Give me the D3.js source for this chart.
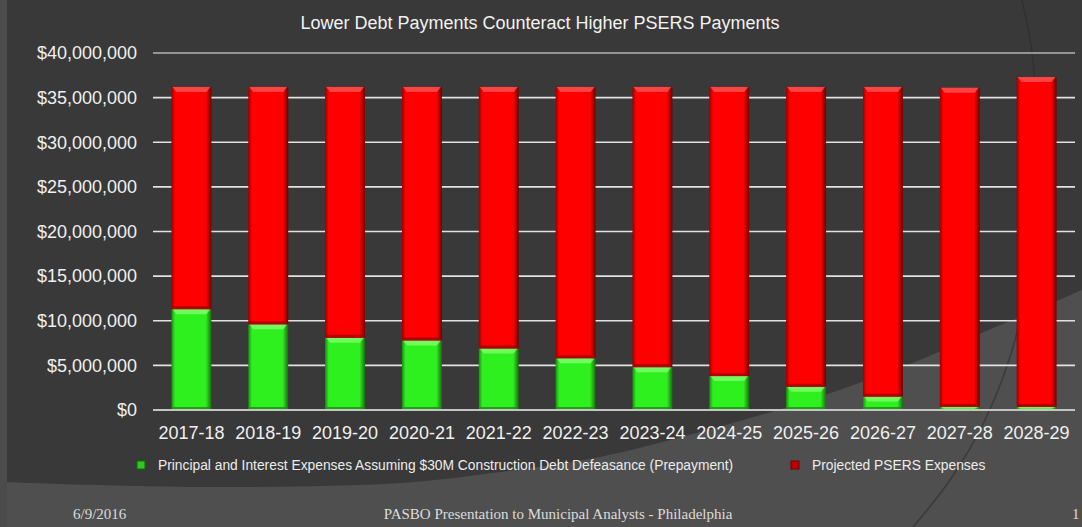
<!DOCTYPE html>
<html>
<head>
<meta charset="utf-8">
<script src="https://cdn.jsdelivr.net/npm/d3@7"></script>
<style>
  html, body { margin: 0; padding: 0; background: #4f4f4f; }
  svg { display: block; }
  text { font-family: "Liberation Sans", Arial, sans-serif; }
</style>
</head>
<body>
<div id="chart"></div>
<script>
// fiscal years on the x axis
var years = ['2017-18', '2018-19', '2019-20', '2020-21', '2021-22', '2022-23',
             '2023-24', '2024-25', '2025-26', '2026-27', '2027-28', '2028-29'];

// principal and interest, assuming the $30M defeasance
var debtPayments = [11300000, 9600000, 8100000, 7800000, 6900000, 5800000,
                    4800000, 3800000, 2600000, 1500000, 350000, 350000];

// projected PSERS expenses (stacked on top)
var psersPayments = [24900000, 26600000, 28100000, 28400000, 29300000, 30400000,
                     31400000, 32400000, 33600000, 34700000, 35750000, 36950000];

var yTicks = [0, 5000000, 10000000, 15000000, 20000000, 25000000, 30000000, 35000000, 40000000];

var seriesNames = ['Principal and Interest Expenses Assuming $30M Construction Debt Defeasance (Prepayment)',
                   'Projected PSERS Expenses'];

var title = 'Lower Debt Payments Counteract Higher PSERS Payments',
    footerDate = '6/9/2016',
    footerText = 'PASBO Presentation to Municipal Analysts - Philadelphia',
    slideNo = '1';

(function (d3) {
    var W = 1082, H = 527;

    var svg = d3.select('#chart').append('svg')
        .attr('width', W)
        .attr('height', H);

    var defs = svg.append('defs');

    // bar gradients: dark edges, bright middle (fake 3d bevel)
    function barGradient(id, edge, mid, edge2) {
        var g = defs.append('linearGradient').attr('id', id)
            .attr('x1', '0%').attr('x2', '100%').attr('y1', '0%').attr('y2', '0%');
        g.append('stop').attr('offset', '0%').attr('stop-color', edge);
        g.append('stop').attr('offset', '9%').attr('stop-color', mid);
        g.append('stop').attr('offset', '86%').attr('stop-color', mid);
        g.append('stop').attr('offset', '100%').attr('stop-color', edge2);
    }
    barGradient('gradGreen', '#1c8a12', '#2ff01f', '#176e0f');
    barGradient('gradRed', '#9a0000', '#ff0000', '#6e0000');

    // ---- slide background ----
    svg.append('rect').attr('width', W).attr('height', H).attr('fill', '#4f4f4f');

    var swoosh = [[0, 482], [200, 487], [400, 483], [500, 472], [600, 457], [700, 432],
                  [800, 403], [900, 368], [982, 333], [1082, 290]];
    var bgLine = d3.line().curve(d3.curveCatmullRom);
    svg.append('path')
        .attr('d', bgLine(swoosh) + 'L1082,0L0,0Z')
        .attr('fill', '#393939');

    // faint arc on the right
    var arc = [[1022, 0], [1033, 60], [1036, 150], [1030, 250], [1015, 340], [985, 420], [950, 480], [913, 527]];
    svg.append('path')
        .attr('d', bgLine(arc))
        .attr('fill', 'none')
        .attr('stroke', '#2c2c2c')
        .attr('stroke-opacity', 0.55)
        .attr('stroke-width', 1.6);

    svg.append('rect').attr('x', 0).attr('y', 0).attr('width', 7).attr('height', H)
        .attr('fill', '#4b4b4b');

    // ---- scales ----
    var x = d3.scaleBand()
        .domain(years)
        .range([153, 1075])
        .paddingInner(0.48)
        .paddingOuter(0.24);

    var y = d3.scaleLinear()
        .domain([0, 40000000])
        .range([410, 53]);

    // title
    svg.append('text')
        .attr('x', 540)
        .attr('y', 29)
        .attr('text-anchor', 'middle')
        .attr('fill', '#f2f2f2')
        .style('font-size', '18px')
        .text(title);

    // gridlines
    svg.append('g').selectAll('line')
        .data(yTicks.filter(function (t) { return t > 0; }))
        .enter().append('line')
        .attr('x1', 153).attr('x2', 1075)
        .attr('y1', function (d) { return y(d); })
        .attr('y2', function (d) { return y(d); })
        .attr('stroke', function (d) { return d === 40000000 ? '#b4b4b4' : '#e2e2e2'; })
        .attr('stroke-width', 1.6);

    // y axis labels
    var yAxis = svg.append('g')
        .attr('transform', 'translate(153,0)')
        .call(d3.axisLeft(y).tickValues(yTicks).tickSize(0).tickPadding(16)
            .tickFormat(d3.format('$,')));
    yAxis.select('.domain').remove();
    yAxis.selectAll('text')
        .attr('fill', '#f0f0f0')
        .style('font-size', '18px')
        .style('font-family', '"Liberation Sans", Arial, sans-serif');

    // ---- stacked bars ----
    var rows = years.map(function (yr, i) {
        return { year: yr, debt: debtPayments[i], psers: psersPayments[i] };
    });
    var stack = d3.stack().keys(['debt', 'psers'])(rows);
    var fills = ['url(#gradGreen)', 'url(#gradRed)'],
        hilite = ['#86ff74', '#ff5a5a'],
        shade = ['#189010', '#a30000'];

    var layers = svg.append('g').selectAll('g.layer')
        .data(stack)
        .enter().append('g')
        .attr('class', 'layer');

    layers.each(function (layer, li) {
        var g = d3.select(this);
        var seg = g.selectAll('g.seg')
            .data(layer)
            .enter().append('g')
            .attr('class', 'seg');

        seg.append('rect')
            .attr('x', function (d) { return x(d.data.year); })
            .attr('y', function (d) { return y(d[1]); })
            .attr('width', x.bandwidth())
            .attr('height', function (d) { return Math.max(0, y(d[0]) - y(d[1])); })
            .attr('fill', fills[li]);

        // darker band at the bottom of the segment
        seg.append('rect')
            .attr('x', function (d) { return x(d.data.year) + 1; })
            .attr('y', function (d) { return y(d[0]) - Math.min(3, (y(d[0]) - y(d[1])) / 3); })
            .attr('width', x.bandwidth() - 2)
            .attr('height', function (d) { return Math.min(3, (y(d[0]) - y(d[1])) / 3); })
            .attr('fill', shade[li])
            .attr('opacity', 0.8);

        // bevelled top highlight
        seg.append('path')
            .attr('d', function (d) {
                var x0 = x(d.data.year), w = x.bandwidth(), t = y(d[1]);
                var h = Math.min(5, (y(d[0]) - t) / 2);
                return 'M' + (x0 + 1) + ',' + t + 'L' + (x0 + w - 1) + ',' + t +
                    'L' + (x0 + w - 5) + ',' + (t + h) + 'L' + (x0 + 5) + ',' + (t + h) + 'Z';
            })
            .attr('fill', hilite[li])
            .attr('opacity', 0.75);
    });

    // baseline
    svg.append('line')
        .attr('x1', 153).attr('x2', 1075)
        .attr('y1', y(0)).attr('y2', y(0))
        .attr('stroke', '#c4c4c4')
        .attr('stroke-width', 1.8);

    // x axis labels
    var xAxis = svg.append('g')
        .attr('transform', 'translate(0,' + y(0) + ')')
        .call(d3.axisBottom(x).tickSize(0).tickPadding(16));
    xAxis.select('.domain').remove();
    xAxis.selectAll('text')
        .attr('fill', '#f0f0f0')
        .style('font-size', '18px')
        .style('font-family', '"Liberation Sans", Arial, sans-serif');

    // ---- legend ----
    var legendX = [137, 791],
        legendColors = ['#2fc821', '#c00000'];
    var legend = svg.append('g').selectAll('g')
        .data(seriesNames)
        .enter().append('g')
        .attr('transform', function (d, i) { return 'translate(' + legendX[i] + ',461)'; });
    legend.append('rect')
        .attr('width', 8).attr('height', 8)
        .attr('fill', function (d, i) { return legendColors[i]; })
        .attr('stroke', function (d, i) { return i ? '#700000' : '#136b0b'; })
        .attr('stroke-width', 1);
    legend.append('text')
        .attr('x', 21)
        .attr('y', 8.5)
        .attr('fill', '#ececec')
        .style('font-size', '13.8px')
        .text(function (d) { return d; });

    // ---- footer ----
    var footer = svg.append('g')
        .style('font-family', '"Liberation Serif", "Times New Roman", serif')
        .attr('fill', '#dcdcdc')
        .style('font-size', '15px');
    footer.append('text').attr('x', 73).attr('y', 519).style('font-family', 'inherit').text(footerDate);
    footer.append('text').attr('x', 558).attr('y', 519).attr('text-anchor', 'middle')
        .style('font-family', 'inherit').text(footerText);
    footer.append('text').attr('x', 1072).attr('y', 519).style('font-family', 'inherit').text(slideNo);
}(window.d3));
</script>
</body>
</html>
